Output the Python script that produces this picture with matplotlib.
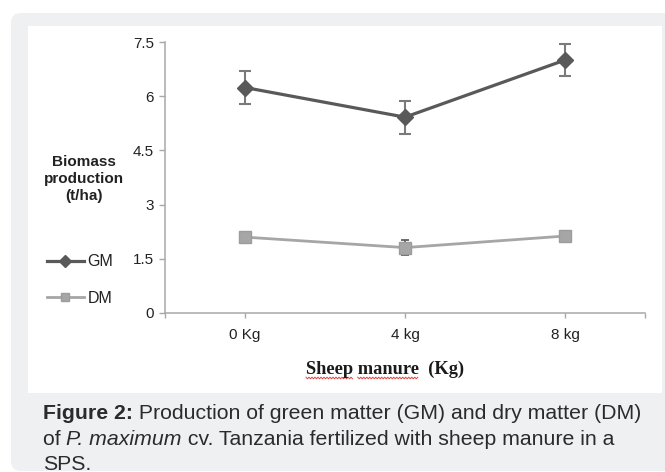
import matplotlib
matplotlib.use("Agg")
import matplotlib.pyplot as plt
from matplotlib.patches import FancyBboxPatch, Rectangle
from matplotlib.lines import Line2D
from matplotlib.text import Annotation
import numpy as np

plt.rcParams['font.family'] = ['Liberation Sans', 'DejaVu Sans']

# datos
dosis = ["0 Kg", "4 kg", "8 kg"]
gm = [6.24, 5.42, 7.00]
gm_err = [0.46, 0.46, 0.45]
dm = [2.10, 1.81, 2.13]
dm_err = [0.10, 0.21, 0.10]
y_ticks = [0, 1.5, 3, 4.5, 6, 7.5]
y_labels = ["0", "1.5", "3", "4.5", "6", "7.5"]

W, H = 665, 472
fig = plt.figure(figsize=(W / 100, H / 100), dpi=100)
fig.patch.set_facecolor("white")

def px(x, y):
    # pixel (desde arriba-izquierda) -> pulgadas
    return x / 100, (H - y) / 100

# fondo gris redondeado y panel blanco
x0, y0 = px(11, 471)
fondo = FancyBboxPatch((x0 + 0.1, y0 + 0.1), (680 - 11) / 100 - 0.2, (471 - 13) / 100 - 0.2,
                       boxstyle="round,pad=0.1", transform=fig.dpi_scale_trans,
                       facecolor="#eff0f2", edgecolor="none", zorder=-2)
fig.patches.append(fondo)
bx, by = px(28, 393)
panel = Rectangle((bx, by), (662 - 28) / 100, (393 - 26) / 100, transform=fig.dpi_scale_trans,
                  facecolor="white", edgecolor="none", zorder=-1)
fig.patches.append(panel)

ax = fig.add_axes([165 / W, 1 - 313 / H, (645 - 165) / W, (313 - 42) / H])
ax.set_facecolor("none")

x = np.arange(len(dosis)) + 0.5
ax.errorbar(x, gm, yerr=gm_err, fmt="none", ecolor="#7a7a7a", elinewidth=1.5,
            capsize=4, capthick=1.5, zorder=2)
ax.plot(x, gm, color="#595959", lw=2.3, marker="D", ms=8.5, label="GM", zorder=3)
ax.errorbar(x, dm, yerr=dm_err, fmt="none", ecolor="#606060", elinewidth=1.3,
            capsize=3, capthick=1.3, zorder=2)
ax.plot(x, dm, color="#a6a6a6", lw=2, marker="s", ms=9, mfc="#a6a6a6",
        mec="#9c9c9c", label="DM", zorder=3)

ax.set_xlim(0, 3)
ax.set_ylim(0, 7.5)
ax.set_xticks(x)
ax.set_xticklabels(dosis)
ax.set_xticks([0, 3], minor=True)
ax.set_yticks(y_ticks)
ax.set_yticklabels(y_labels)

for s in ["top", "right"]:
    ax.spines[s].set_visible(False)
for s in ["left", "bottom"]:
    ax.spines[s].set_color("#a8a8a8")
    ax.spines[s].set_linewidth(1.1)
ax.tick_params(axis="y", length=4, width=1, color="#a8a8a8", pad=4,
               labelsize=11, labelcolor="#222222")
ax.tick_params(axis="x", which="both", length=3.5, width=1, color="#a8a8a8", pad=7,
               labelsize=11, labelcolor="#222222")

# etiqueta eje y
fig.text(84 / W, 1 - 179 / H, "Biomass\nproduction\n(t/ha)", ha="center", va="center",
         fontsize=11, fontweight="bold", color="#222222", linespacing=1.25)

leg = fig.legend(loc="center left", bbox_to_anchor=(47 / W, 1 - 280 / H), frameon=False,
                 fontsize=11.5, handlelength=2.3, handletextpad=0.25, labelspacing=1.35,
                 borderpad=0, borderaxespad=0, markerscale=0.7)
for t in leg.get_texts():
    t.set_color("#222222")

# etiqueta eje x
serif = ["Liberation Serif", "DejaVu Serif"]
xl = fig.text(385 / W, 1 - 374 / H, "Sheep manure  (Kg)", ha="center", va="baseline",
              fontsize=13.2, fontweight="bold", family=serif, color="#1a1a1a")
fig.canvas.draw()
r = fig.canvas.get_renderer()
bb = xl.get_window_extent(r)

def ancho(s):
    t = fig.text(0, 0, s, fontsize=13.2, fontweight="bold", family=serif)
    w = t.get_window_extent(r).width
    t.remove()
    return w

w1 = ancho("Sheep")
w2 = ancho("Sheep ")
w3 = ancho("Sheep manure")
yq = H - 378
for a, b in [(bb.x0, bb.x0 + w1), (bb.x0 + w2, bb.x0 + w3)]:
    xs = np.arange(a, b + 0.1, 1.5)
    ys = yq + np.where(np.arange(len(xs)) % 2 == 0, 0.8, -0.8)
    fig.lines.append(Line2D(xs / 100, ys / 100, transform=fig.dpi_scale_trans,
                            color="#e04040", lw=0.7))

# pie de figura
cap_kw = dict(fontsize=15.3, color="#2b2b2b")

def cadena(partes, x, y):
    prev = None
    for txt, estilo in partes:
        kw = dict(cap_kw)
        if estilo == "b":
            kw["fontweight"] = "bold"
        if estilo == "i":
            kw["fontstyle"] = "italic"
        if prev is None:
            prev = fig.text(x / W, 1 - y / H, txt, ha="left", va="baseline", **kw)
        else:
            prev = fig.add_artist(Annotation(txt, xy=(1, 0), xycoords=prev, ha="left",
                                             va="bottom", annotation_clip=False, **kw))
    return prev

cadena([("Figure 2:", "b"), (" Production of green matter (GM) and dry matter (DM)", "")], 43, 419)
cadena([("of ", ""), ("P. maximum", "i"), (" cv. Tanzania fertilized with sheep manure in a", "")], 43, 445)
cadena([("SPS.", "")], 43, 470)

fig.savefig("out.png", dpi=100)
